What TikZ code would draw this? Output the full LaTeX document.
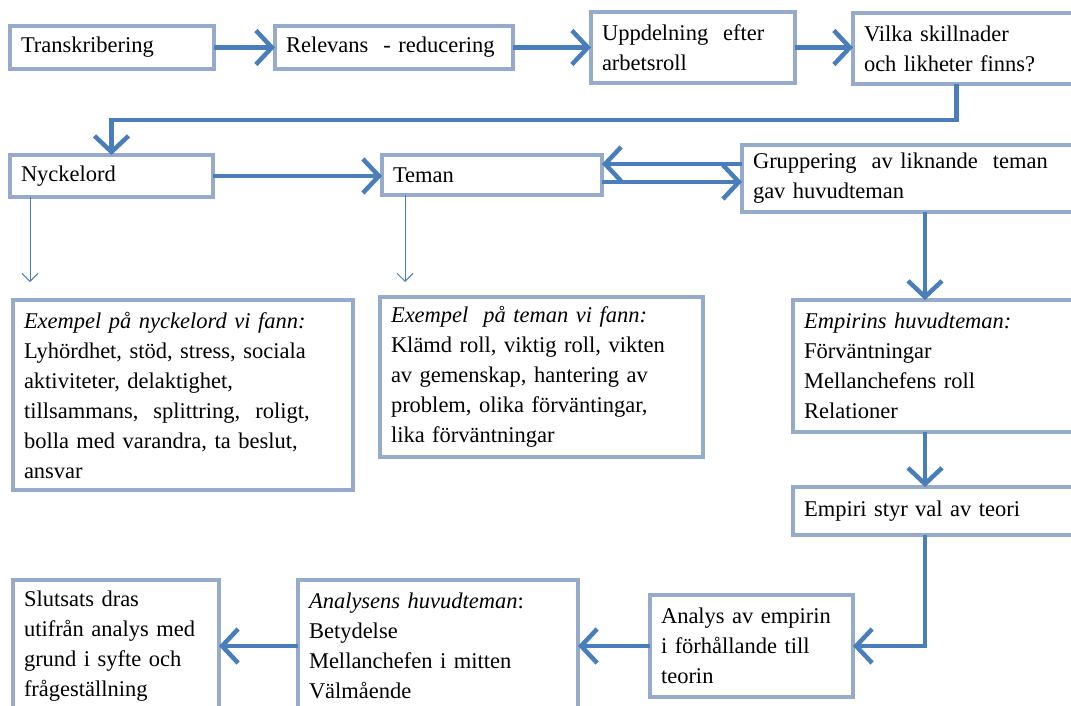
\documentclass[tikz,border=0pt]{standalone}
\usepackage{fontspec}
\setmainfont{Liberation Serif}
\usetikzlibrary{arrows.meta,calc}
\definecolor{boxc}{RGB}{150,170,202}
\definecolor{arrc}{RGB}{74,126,187}
\tikzset{
  box/.style={draw=boxc, line width=3.2pt, fill=white, anchor=north west,
    outer sep=0pt, inner xsep=11pt, inner ysep=0pt, align=left,
    font=\fontsize{22.5}{30}\selectfont},
  arr/.style={draw=arrc, line width=4.5pt,
    -{Straight Barb[length=16pt,width=34pt,line width=4.5pt]}},
  thinarr/.style={draw=arrc, line width=1pt,
    -{Straight Barb[length=8pt,width=16pt,line width=1pt]}}
}
\newcommand\bx[6]{%
  \pgfmathsetmacro\bw{#4-#2}\pgfmathsetmacro\bh{#5-#3}\pgfmathsetmacro\tw{#4-#2-22}%
  \node[box, minimum width=\bw pt, minimum height=\bh pt, text width=\tw pt] (#1) at (#2,#3) {#6};}
\begin{document}
\begin{tikzpicture}[x=1pt,y=-1pt]
\useasboundingbox (0,0) rectangle (1071,706);
\fill[white] (0,0) rectangle (1071,706);
% row 1
\bx{trans}{10}{26}{214}{69}{Transkribering}
\bx{relev}{275}{26}{513}{69}{Relevans\ \ - reducering}
\bx{upp}{591}{12}{795}{83}{Uppdelning\ \ efter\\arbetsroll}
\bx{vilka}{853}{13}{1080}{84}{Vilka\ skillnader\\och likheter\ finns?}
% row 2
\bx{nyck}{10}{155}{213}{197}{Nyckelord}
\bx{teman}{382}{155}{602}{195}{Teman}
\bx{grup}{742}{145}{1080}{212}{Gruppering\ \ av liknande\ \ teman\\gav huvudteman}
% row 3
\bx{exn}{13}{300}{353}{490}{\textit{Exempel på nyckelord vi fann:}\\Lyhördhet, stöd, stress, sociala\\aktiviteter,\ delaktighet,\\tillsammans,\ \ splittring,\ \ roligt,\\bolla\ med varandra, ta beslut,\\ansvar}
\bx{ext}{380}{297}{703}{457}{\textit{Exempel\ \ på teman vi fann:}\\Klämd roll,\ viktig\ roll,\ vikten\\av gemenskap,\ hantering\ av\\problem, olika\ förväntingar,\\lika\ förväntningar}
\bx{emp}{793}{300}{1080}{432}{\textit{Empirins huvudteman:}\\Förväntningar\\Mellanchefens\ roll\\Relationer}
\bx{styr}{793}{487}{1080}{535}{Empiri\ styr val av teori}
% row 4
\bx{analys}{650}{595}{853}{697}{Analys\ av empirin\\i förhållande\ till\\teorin}
\bx{ahuv}{298}{580}{578}{712}{\textit{Analysens huvudteman}:\\Betydelse\\Mellanchefen\ i mitten\\Välmående}
\bx{slut}{13}{580}{219}{712}{Slutsats\ dras\\utifrån analys\ med\\grund i syfte och\\frågeställning}
% connectors
\draw[arr] (trans.east) -- (relev.west);
\draw[arr] (relev.east) -- (upp.west);
\draw[arr] (upp.east) -- (upp.east -| vilka.west);
\draw[arr] ([xshift=-10pt]vilka.south) -- ++(0,36) -| (nyck.north);
\draw[arr] (nyck.east) -- (nyck.east -| teman.west);
\draw[arr] ([yshift=11pt]teman.east -| grup.west) -- ([yshift=11pt]teman.east);
\draw[arr] ([yshift=-7pt]teman.east) -- ([yshift=-7pt]teman.east -| grup.west);
\coordinate (nyend) at ($(nyck.south west)+(20,85)$);
\coordinate (teend) at ($(teman.south west)+(23,87)$);
\draw[thinarr] ([xshift=20pt]nyck.south west) -- (nyend);
\draw[thinarr] ([xshift=23pt]teman.south west) -- (teend);
\coordinate (vx) at (925,0);
\draw[arr] (grup.south -| vx) -- (emp.north -| vx);
\draw[arr] (emp.south -| vx) -- (styr.north -| vx);
\draw[arr] (styr.south -| vx) |- (analys.east);
\draw[arr] (analys.west) -- (analys.west -| ahuv.east);
\draw[arr] (ahuv.west) -- (ahuv.west -| slut.east);
\end{tikzpicture}
\end{document}
